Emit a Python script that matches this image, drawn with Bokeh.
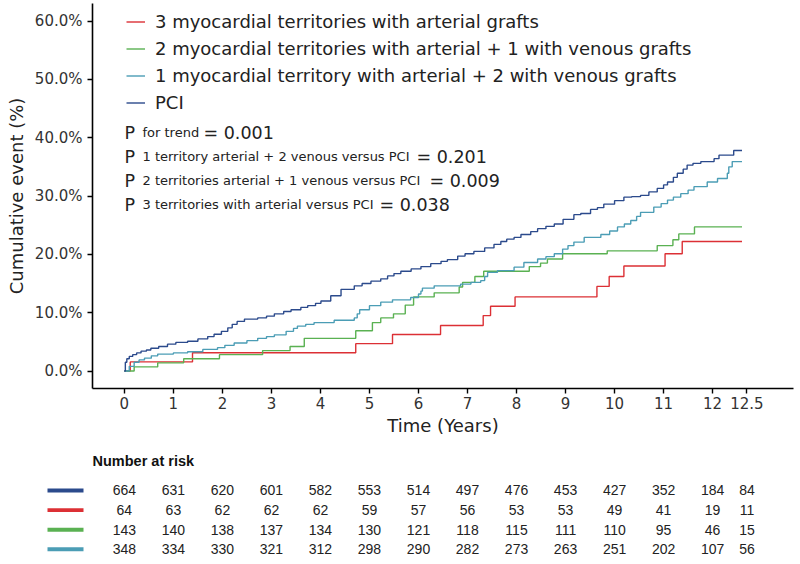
from bokeh.plotting import figure
from bokeh.models import (Range1d, FixedTicker, Legend, LegendItem, Label,
                          BoxAnnotation, ColumnDataSource)
from bokeh.embed import file_html
from bokeh.resources import INLINE
from bokeh.core.properties import value

# ---------------- data ----------------
LABELS = [
    "3 myocardial territories with arterial grafts",
    "2 myocardial territories with arterial + 1 with venous grafts",
    "1 myocardial territory with arterial + 2 with venous grafts",
    "PCI",
]
COLORS = ["#DC3035", "#5AB152", "#4B9DB5", "#2B4A8C"]
END_T = 12.6

red_t = [0, 0.12, 1.39, 4.72, 5.47, 6.45, 7.32, 7.47, 7.97, 9.64, 9.89, 10.19, 11.03, 11.38]
red_y = [0, 1.56, 3.13, 4.69, 6.25, 7.81, 9.5, 11.1, 12.7, 14.5, 16.2, 18.0, 20.1, 22.2]

green_t = [0, 0.20, 0.68, 1.21, 1.94, 2.82, 3.38, 3.67, 4.72, 5.06, 5.23, 5.49, 5.73, 5.90,
           6.32, 6.83, 6.90, 7.15, 7.33, 8.26, 8.49, 8.63, 8.94, 9.85, 10.87, 11.19, 11.31, 11.63]
green_y = [0, 0.7, 1.4, 2.1, 2.8, 3.5, 4.2, 5.6, 6.9, 8.3, 9.1, 9.8, 11.3, 12.7,
           13.4, 14.4, 15.2, 16.2, 17.1, 17.9, 18.5, 19.2, 20.1, 20.6, 21.5, 22.5, 23.5, 24.7]

teal_t = [0, 0.1, 0.2, 0.3, 0.41, 0.55, 0.68, 1.0, 1.29, 1.6, 1.9, 2.05, 2.24, 2.5, 2.72, 2.9,
          3.06, 3.3, 3.45, 3.53, 3.7, 3.87, 4.28, 4.69, 4.75, 4.8, 5.0, 5.23, 5.47, 5.84, 6.0,
          6.05, 6.08, 6.32, 6.86, 7.07, 7.27, 7.35, 7.41, 7.61, 7.95, 8.15, 8.43, 8.6, 8.77,
          8.94, 9.05, 9.17, 9.38, 9.72, 9.9, 10.06, 10.2, 10.33, 10.45, 10.53, 10.8, 10.95,
          11.08, 11.2, 11.35, 11.5, 11.62, 11.89, 12.10, 12.30, 12.33, 12.40]
teal_y = [0, 0.8, 1.5, 1.9, 2.2, 2.6, 2.9, 3.1, 3.3, 3.7, 4.0, 4.4, 4.8, 5.2, 5.6, 5.9,
          6.2, 6.8, 7.3, 7.7, 8.0, 8.3, 8.7, 9.1, 9.8, 10.5, 11.2, 11.8, 12.2, 12.6, 13.2,
          13.7, 14.2, 14.6, 14.9, 15.2, 15.5, 16.2, 16.9, 17.2, 17.8, 18.6, 19.2, 19.6, 20.1,
          20.9, 21.5, 22.1, 22.9, 23.4, 24.0, 24.7, 25.2, 25.8, 26.5, 27.2, 28.1, 28.7,
          29.3, 29.8, 30.4, 31.0, 31.6, 32.4, 33.0, 33.9, 35.0, 35.9]

pci_t = [0, 0.02, 0.05, 0.1, 0.17, 0.25, 0.34, 0.45, 0.54, 0.7, 0.88, 1.05, 1.29, 1.5, 1.7,
         1.83, 1.98, 2.11, 2.2, 2.3, 2.45, 2.72, 2.9, 3.06, 3.25, 3.4, 3.6, 3.74, 3.9, 4.01,
         4.21, 4.42, 4.69, 4.85, 5.03, 5.23, 5.37, 5.5, 5.64, 5.85, 6.05, 6.25, 6.46, 6.59,
         6.8, 6.95, 7.13, 7.35, 7.54, 7.68, 7.8, 7.95, 8.09, 8.29, 8.43, 8.6, 8.77, 8.95,
         9.17, 9.31, 9.51, 9.65, 9.78, 10.0, 10.19, 10.35, 10.53, 10.7, 10.87, 11.0, 11.08,
         11.2, 11.28, 11.4, 11.48, 11.6, 11.76, 12.03, 12.13, 12.43]
pci_y = [0, 1.5, 2.1, 2.5, 2.8, 3.1, 3.4, 3.6, 3.9, 4.2, 4.6, 4.9, 5.1, 5.5, 5.9,
         6.3, 6.8, 7.4, 8.0, 8.5, 8.9, 9.1, 9.4, 9.8, 10.2, 10.5, 10.9, 11.2, 11.6, 12.0,
         12.9, 14.0, 14.6, 15.0, 15.4, 15.8, 16.3, 16.7, 17.1, 17.5, 17.9, 18.4, 18.8, 19.1,
         19.7, 20.1, 20.5, 21.1, 21.7, 22.2, 22.6, 22.9, 23.4, 23.9, 24.4, 24.8, 25.2, 26.0,
         26.8, 27.0, 27.7, 28.0, 28.6, 29.2, 29.8, 29.9, 30.1, 30.7, 31.3, 31.9, 32.4,
         33.2, 33.9, 34.6, 35.3, 35.6, 35.9, 36.4, 37.0, 37.8]

CURVES = [(red_t, red_y), (green_t, green_y), (teal_t, teal_y), (pci_t, pci_y)]

X_TICKS = [0, 1, 2, 3, 4, 5, 6, 7, 8, 9, 10, 11, 12, 12.7]
X_TICK_LABELS = ["0", "1", "2", "3", "4", "5", "6", "7", "8", "9", "10", "11", "12", "12.5"]
Y_TICKS = [0, 10, 20, 30, 40, 50, 60]
Y_TICK_LABELS = ["0.0%", "10.0%", "20.0%", "30.0%", "40.0%", "50.0%", "60.0%"]

RISK_TIMES = X_TICKS
RISK_ORDER = [3, 0, 1, 2]  # PCI, red, green, teal
risk_pci = [664, 631, 620, 601, 582, 553, 514, 497, 476, 453, 427, 352, 184, 84]
risk_red = [64, 63, 62, 62, 62, 59, 57, 56, 53, 53, 49, 41, 19, 11]
risk_green = [143, 140, 138, 137, 134, 130, 121, 118, 115, 111, 110, 95, 46, 15]
risk_teal = [348, 334, 330, 321, 312, 298, 290, 282, 273, 263, 251, 202, 107, 56]
RISK_ROWS = [risk_pci, risk_red, risk_green, risk_teal]

P_LINES = [
    ("for trend", "= 0.001"),
    ("1 territory arterial + 2 venous versus PCI", "= 0.201"),
    ("2 territories arterial + 1 venous versus  PCI", "= 0.009"),
    ("3 territories with arterial versus PCI", "= 0.038"),
]

# ---------------- layout constants ----------------
W = 800
LEFT = 92
RIGHT = 7
X0, X1 = -0.65, 13.65
FONT = "DejaVu Sans"
TXT = "#222222"

p = figure(width=W, height=440, x_range=Range1d(X0, X1), y_range=Range1d(-3.0, 63.0),
           output_backend="svg", toolbar_location=None,
           min_border_left=LEFT, min_border_right=RIGHT, min_border_top=3, min_border_bottom=52)
p.outline_line_color = None
p.grid.visible = False

renderers = []
for (tt, yy), col in zip(CURVES, COLORS):
    src = ColumnDataSource(dict(t=list(tt) + [END_T], y=list(yy) + [yy[-1]]))
    r = p.step(x="t", y="y", source=src, mode="after", line_color=col, line_width=1.4)
    renderers.append(r)

for ax in (p.xaxis[0], p.yaxis[0]):
    ax.axis_line_width = 1.6
    ax.axis_line_color = "black"
    ax.major_tick_line_width = 1.4
    ax.major_tick_line_color = "black"
    ax.major_tick_out = 5
    ax.major_tick_in = 0
    ax.minor_tick_line_color = None
    ax.major_label_text_font = FONT
    ax.major_label_text_font_size = "15px"
    ax.major_label_text_color = "#333333"
    ax.axis_label_text_font = FONT
    ax.axis_label_text_font_size = "18px"
    ax.axis_label_text_font_style = "normal"
    ax.axis_label_text_color = TXT

p.xaxis.ticker = FixedTicker(ticks=X_TICKS)
p.xaxis.major_label_overrides = {t: s for t, s in zip(X_TICKS, X_TICK_LABELS)}
p.xaxis.axis_label = "Time (Years)"
p.xaxis.major_label_standoff = 3
p.xaxis.axis_label_standoff = 3

p.yaxis.ticker = FixedTicker(ticks=Y_TICKS)
p.yaxis.major_label_overrides = {t: s for t, s in zip(Y_TICKS, Y_TICK_LABELS)}
p.yaxis.axis_label = "Cumulative event (%)"
p.yaxis.major_label_standoff = 5
p.yaxis.axis_label_standoff = 5

legend = Legend(
    items=[LegendItem(label=lab, renderers=[r]) for lab, r in zip(LABELS, renderers)],
    location=(34, 273.5), padding=0, margin=0, spacing=2,
    glyph_width=19, glyph_height=25, label_height=25, label_standoff=10,
    label_text_font=FONT, label_text_font_size="18px", label_text_color=TXT,
    border_line_color=None, background_fill_alpha=0,
)
p.add_layout(legend)

# P-value annotations (baselines measured from frame bottom)
P_BASE = [256, 232, 208, 184]
EQ_X = [111, 324, 337, 287]
for (small, big), yb, ex in zip(P_LINES, P_BASE, EQ_X):
    p.add_layout(Label(x=32, y=yb, x_units="screen", y_units="screen", text="P",
                       text_font=FONT, text_font_size="17.5px", text_color=TXT,
                       text_baseline="alphabetic"))
    p.add_layout(Label(x=50, y=yb, x_units="screen", y_units="screen", text=small,
                       text_font=FONT, text_font_size="13px", text_color=TXT,
                       text_baseline="alphabetic"))
    p.add_layout(Label(x=ex, y=yb, x_units="screen", y_units="screen", text=big,
                       text_font=FONT, text_font_size="17.5px", text_color=TXT,
                       text_baseline="alphabetic"))

# ---------------- risk table: separate full-width figure, same x scale ----------------
ppu = (W - LEFT - RIGHT) / (X1 - X0)
q = figure(width=W, height=124,
           x_range=Range1d(X0 - LEFT / ppu, X1 + RIGHT / ppu),
           y_range=Range1d(3.776, -2.551),
           output_backend="svg", toolbar_location=None,
           x_axis_location=None, y_axis_location=None,
           min_border_left=0, min_border_right=0, min_border_top=0, min_border_bottom=0)
q.outline_line_color = None
q.grid.visible = False

xs, ys, txt = [], [], []
for ri, row in enumerate(RISK_ROWS):
    for t, n in zip(RISK_TIMES, row):
        xs.append(t)
        ys.append(ri)
        txt.append(str(n))
q.text(x="x", y="y", text="t", source=ColumnDataSource(dict(x=xs, y=ys, t=txt)),
       text_align="center", text_baseline="middle", text_font=value("Liberation Sans"),
       text_font_size="14px", text_color=TXT)

# colour keys of the risk table rows
for ri, gi in enumerate(RISK_ORDER):
    q.add_layout(BoxAnnotation(left=47, right=83, left_units="screen", right_units="screen",
                               top=ri - 0.1, bottom=ri + 0.1, fill_color=COLORS[gi],
                               fill_alpha=1.0, line_color=None))

q.add_layout(Label(x=LEFT, y=-1.48, x_units="screen", y_units="data", text="Number at risk",
                   text_font="Liberation Sans", text_font_size="14.5px",
                   text_font_style="bold", text_color="#111111", text_baseline="middle"))

open("out.html", "w").write(file_html([p, q], INLINE))
